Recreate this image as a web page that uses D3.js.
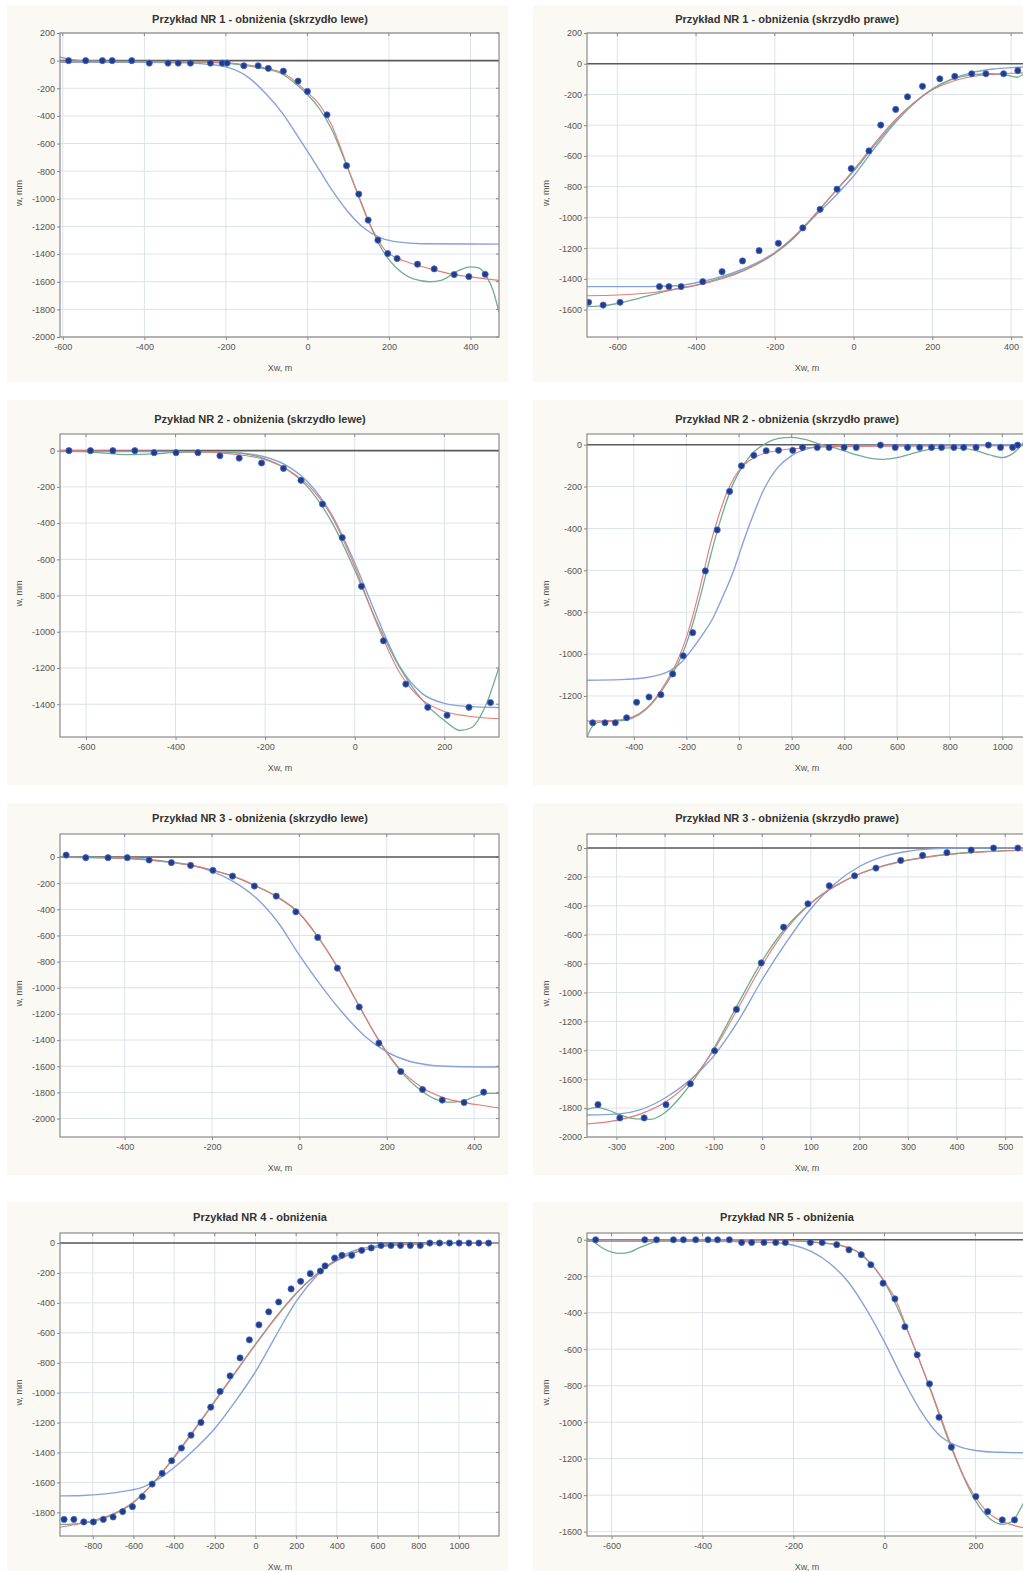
<!DOCTYPE html>
<html><head><meta charset="utf-8">
<script src="https://cdn.jsdelivr.net/npm/d3@7"></script>
<style>
body{margin:0;background:#fff;}
svg{display:block;font-family:"Liberation Sans",Arial,sans-serif;}
</style></head>
<body><svg id="c" width="1023" height="1571"></svg>
<script>
// ---------- titles & axis labels ----------
const titles = [
  "Przykład NR 1 - obniżenia (skrzydło lewe)",
  "Przykład NR 1 - obniżenia (skrzydło prawe)",
  "Pzykład NR 2 - obniżenia (skrzydło lewe)",
  "Przykład NR 2 - obniżenia (skrzydło prawe)",
  "Przykład NR 3 - obniżenia (skrzydło lewe)",
  "Przykład NR 3 - obniżenia (skrzydło prawe)",
  "Przykład NR 4 - obniżenia",
  "Przykład NR 5 - obniżenia"
];
const xLabel = "Xw, m";
const yLabel = "w, mm";

// ---------- tick values ----------
const xTicks = [
  [-600,-400,-200,0,200,400],
  [-600,-400,-200,0,200,400],
  [-600,-400,-200,0,200],
  [-400,-200,0,200,400,600,800,1000],
  [-400,-200,0,200,400],
  [-300,-200,-100,0,100,200,300,400,500],
  [-800,-600,-400,-200,0,200,400,600,800,1000],
  [-600,-400,-200,0,200]
];
const yTicks = [
  [200,0,-200,-400,-600,-800,-1000,-1200,-1400,-1600,-1800,-2000],
  [200,0,-200,-400,-600,-800,-1000,-1200,-1400,-1600],
  [0,-200,-400,-600,-800,-1000,-1200,-1400],
  [0,-200,-400,-600,-800,-1000,-1200],
  [0,-200,-400,-600,-800,-1000,-1200,-1400,-1600,-1800,-2000],
  [0,-200,-400,-600,-800,-1000,-1200,-1400,-1600,-1800,-2000],
  [0,-200,-400,-600,-800,-1000,-1200,-1400,-1600,-1800],
  [0,-200,-400,-600,-800,-1000,-1200,-1400,-1600]
];
// axis extents [xmin,xmax,ymin,ymax]
const extents = [
  [-607,470,-2000,200],
  [-677,448,-1778,200],
  [-658,322,-1581,92],
  [-577.5,1105,-1396,51],
  [-548,457,-2141,176],
  [-360.6,551,-2000,97],
  [-961,1197,-1958,67],
  [-654,320,-1624,37]
];

// ---------- NR 1 left ----------
const nr1L_dots = [[-586,0],[-544,0],[-503,0],[-479,0],[-431,0],[-388,-18],[-342,-18],[-317,-18],[-287,-18],[-238,-18],[-209,-18],[-197,-18],[-156,-37],[-121,-37],[-96,-56],[-59,-76],[-23,-148],[0,-223],[48,-392],[96,-760],[126,-966],[149,-1154],[173,-1299],[197,-1396],[220,-1432],[270,-1473],[311,-1507],[360,-1548],[396,-1563],[436,-1546]];
const nr1L_red = [[-607,-3],[-400,-5],[-250,-10],[-200,-15],[-150,-30],[-100,-55],[-60,-90],[-30,-150],[0,-230],[30,-320],[60,-470],[90,-700],[110,-860],[130,-1010],[150,-1160],[170,-1280],[190,-1370],[210,-1415],[250,-1462],[300,-1505],[350,-1543],[400,-1565],[470,-1590]];
const nr1L_green = [[-607,25],[-580,8],[-500,-5],[-300,-10],[-220,-15],[-180,-25],[-120,-50],[-60,-100],[-30,-165],[0,-245],[30,-350],[60,-500],[90,-710],[120,-940],[150,-1165],[175,-1325],[200,-1440],[230,-1530],[260,-1580],[300,-1600],[330,-1588],[370,-1520],[400,-1492],[420,-1500],[440,-1565],[455,-1660],[470,-1820]];
const nr1L_blue = [[-607,-12],[-400,-12],[-300,-15],[-250,-25],[-200,-45],[-150,-110],[-100,-245],[-60,-385],[-20,-565],[0,-655],[30,-795],[60,-935],[100,-1095],[140,-1215],[180,-1283],[220,-1312],[280,-1325],[470,-1328]];

// ---------- NR 1 right ----------
const nr1R_dots = [[-673,-1552],[-636,-1570],[-593,-1552],[-493,-1450],[-469,-1450],[-438,-1450],[-383,-1418],[-334,-1353],[-282,-1283],[-240,-1216],[-191,-1168],[-129,-1068],[-85,-947],[-42,-816],[-6,-682],[39,-567],[69,-399],[107,-297],[137,-215],[175,-147],[219,-98],[257,-82],[300,-65],[336,-65],[381,-65],[417,-45]];
const nr1R_red = [[-677,-1510],[-600,-1505],[-500,-1485],[-420,-1452],[-350,-1410],[-300,-1370],[-250,-1310],[-200,-1232],[-150,-1120],[-100,-985],[-50,-840],[0,-690],[50,-530],[100,-380],[150,-260],[200,-170],[250,-115],[300,-85],[350,-70],[400,-62],[448,-58]];
const nr1R_green = [[-677,-1580],[-640,-1575],[-600,-1560],[-550,-1530],[-500,-1495],[-450,-1465],[-400,-1440],[-350,-1405],[-300,-1365],[-250,-1310],[-200,-1235],[-150,-1130],[-100,-990],[-50,-840],[0,-700],[50,-540],[100,-390],[150,-265],[200,-165],[250,-100],[300,-72],[350,-65],[390,-75],[415,-88],[430,-70],[448,-30]];
const nr1R_blue = [[-677,-1450],[-520,-1450],[-450,-1445],[-400,-1425],[-350,-1395],[-300,-1355],[-250,-1300],[-200,-1228],[-150,-1125],[-100,-995],[-50,-870],[0,-730],[50,-560],[100,-400],[150,-265],[200,-165],[250,-100],[300,-58],[350,-36],[400,-25],[448,-20]];

// ---------- NR 2 left ----------
const nr2L_dots = [[-638,0],[-590,0],[-540,0],[-491,0],[-448,-11],[-399,-11],[-350,-11],[-301,-28],[-258,-41],[-208,-68],[-159,-98],[-120,-164],[-72,-295],[-28,-480],[15,-749],[64,-1050],[114,-1289],[163,-1417],[206,-1461],[255,-1417],[303,-1391]];
const nr2L_red = [[-658,0],[-500,-2],[-400,-5],[-300,-12],[-250,-25],[-200,-50],[-150,-105],[-100,-200],[-50,-370],[0,-640],[50,-960],[100,-1225],[150,-1375],[200,-1440],[250,-1465],[322,-1480]];
const nr2L_green = [[-658,0],[-600,-5],[-550,-15],[-500,-22],[-450,-18],[-400,-10],[-300,-5],[-250,-15],[-200,-45],[-150,-105],[-100,-215],[-50,-400],[0,-660],[50,-950],[100,-1195],[150,-1375],[200,-1490],[235,-1545],[260,-1530],[290,-1420],[322,-1195]];
const nr2L_blue = [[-658,-5],[-400,-5],[-300,-8],[-250,-15],[-200,-35],[-150,-85],[-100,-185],[-50,-360],[0,-620],[50,-920],[100,-1190],[150,-1340],[200,-1395],[250,-1412],[322,-1418]];

// ---------- NR 2 right ----------
const nr2R_dots = [[-556,-1328],[-509,-1328],[-470,-1328],[-427,-1304],[-389,-1230],[-342,-1205],[-297,-1194],[-252,-1095],[-212,-1008],[-176,-898],[-128,-603],[-83,-407],[-36,-223],[9,-101],[56,-51],[103,-29],[150,-27],[204,-27],[241,-13],[297,-13],[342,-13],[399,-13],[445,-13],[537,-2],[593,-13],[640,-13],[686,-13],[731,-13],[769,-13],[816,-13],[853,-13],[900,-13],[947,-2],[993,-13],[1039,-13],[1058,-2]];
const nr2R_red = [[-577,-1320],[-500,-1318],[-430,-1310],[-380,-1285],[-330,-1230],[-280,-1140],[-230,-1020],[-200,-920],[-170,-790],[-140,-640],[-110,-480],[-80,-350],[-50,-240],[-20,-160],[20,-95],[60,-60],[100,-40],[150,-28],[250,-15],[400,-8],[1105,-5]];
const nr2R_green = [[-577,-1395],[-560,-1350],[-530,-1325],[-480,-1320],[-430,-1315],[-380,-1290],[-330,-1235],[-280,-1150],[-230,-1040],[-200,-950],[-170,-830],[-140,-690],[-110,-540],[-80,-400],[-50,-280],[-20,-180],[20,-90],[60,-30],[100,5],[150,30],[200,35],[250,25],[300,5],[350,-10],[400,-30],[450,-50],[500,-65],[550,-70],[600,-62],[650,-45],[700,-28],[750,-18],[800,-15],[850,-18],[900,-28],[950,-48],[1000,-62],[1030,-50],[1060,-20],[1080,10]];
const nr2R_blue = [[-577,-1125],[-450,-1122],[-350,-1112],[-300,-1098],[-260,-1078],[-220,-1040],[-180,-980],[-140,-910],[-100,-830],[-60,-720],[-20,-600],[0,-525],[20,-450],[60,-315],[92,-220],[150,-105],[200,-52],[250,-24],[300,-10],[400,-3],[1105,0]];

// ---------- NR 3 left ----------
const nr3L_dots = [[-534,15],[-489,-5],[-438,-5],[-394,-5],[-344,-23],[-293,-43],[-249,-64],[-198,-102],[-153,-146],[-103,-222],[-53,-299],[-8,-419],[42,-615],[87,-850],[137,-1147],[182,-1423],[232,-1640],[282,-1778],[327,-1859],[377,-1877],[422,-1798]];
const nr3L_red = [[-548,0],[-450,-5],[-400,-10],[-300,-38],[-250,-62],[-200,-100],[-150,-148],[-100,-220],[-50,-305],[0,-430],[40,-600],[90,-860],[137,-1140],[182,-1400],[230,-1620],[280,-1760],[330,-1840],[380,-1880],[420,-1900],[457,-1920]];
const nr3L_green = [[-548,0],[-450,-5],[-400,-10],[-300,-38],[-250,-62],[-200,-100],[-150,-150],[-100,-222],[-50,-308],[0,-432],[40,-600],[90,-858],[137,-1140],[182,-1405],[230,-1630],[280,-1790],[310,-1850],[340,-1875],[370,-1868],[400,-1835],[430,-1808],[457,-1808]];
const nr3L_blue = [[-548,-3],[-400,-8],[-300,-35],[-250,-60],[-200,-110],[-150,-190],[-100,-310],[-50,-495],[0,-750],[50,-985],[100,-1195],[150,-1370],[200,-1490],[250,-1560],[300,-1592],[350,-1602],[457,-1606]];

// ---------- NR 3 right ----------
const nr3R_dots = [[-338,-1776],[-293,-1868],[-243,-1868],[-198,-1776],[-148,-1632],[-98,-1403],[-53,-1117],[-2,-795],[44,-548],[94,-386],[138,-261],[190,-192],[234,-139],[285,-86],[330,-51],[380,-32],[430,-14],[476,0],[526,0]];
const nr3R_red = [[-361,-1910],[-300,-1885],[-250,-1840],[-200,-1760],[-150,-1620],[-100,-1400],[-50,-1110],[0,-810],[50,-560],[100,-385],[150,-265],[200,-180],[250,-125],[300,-85],[350,-58],[400,-40],[450,-28],[551,-15]];
const nr3R_green = [[-361,-1810],[-340,-1795],[-320,-1810],[-290,-1850],[-260,-1875],[-230,-1878],[-200,-1830],[-170,-1730],[-140,-1600],[-100,-1390],[-50,-1080],[0,-780],[50,-545],[100,-380],[150,-262],[200,-178],[250,-122],[300,-83],[350,-56],[400,-38],[450,-26],[551,-14]];
const nr3R_blue = [[-361,-1848],[-300,-1842],[-250,-1810],[-200,-1730],[-150,-1610],[-100,-1440],[-50,-1200],[0,-910],[50,-650],[100,-420],[150,-245],[200,-128],[250,-58],[300,-22],[350,-6],[400,0],[551,0]];

// ---------- NR 4 ----------
const nr4_dots = [[-941,-1847],[-893,-1847],[-844,-1864],[-797,-1864],[-748,-1847],[-700,-1831],[-653,-1795],[-605,-1762],[-556,-1695],[-508,-1611],[-459,-1539],[-412,-1455],[-364,-1370],[-317,-1284],[-268,-1199],[-220,-1097],[-174,-992],[-125,-888],[-76,-768],[-30,-647],[17,-547],[65,-460],[114,-394],[175,-307],[222,-256],[269,-205],[319,-187],[342,-153],[389,-100],[425,-82],[473,-82],[522,-49],[569,-33],[617,-16],[666,-16],[713,-16],[761,-16],[810,-16],[857,0],[905,0],[954,0],[1001,0],[1049,0],[1098,0],[1146,0]];
const nr4_red = [[-961,-1900],[-900,-1885],[-850,-1870],[-800,-1855],[-700,-1810],[-600,-1730],[-500,-1600],[-400,-1435],[-300,-1250],[-200,-1060],[-100,-870],[0,-680],[100,-500],[200,-340],[300,-210],[400,-118],[500,-60],[600,-28],[700,-13],[800,-6],[1000,-2],[1197,0]];
const nr4_green = [[-961,-1880],[-900,-1878],[-800,-1862],[-700,-1815],[-600,-1735],[-500,-1600],[-400,-1430],[-300,-1245],[-200,-1055],[-100,-865],[0,-675],[100,-495],[200,-335],[300,-208],[400,-115],[500,-58],[600,-26],[700,-12],[800,-5],[1000,-2],[1197,0]];
const nr4_blue = [[-961,-1690],[-850,-1687],[-750,-1678],[-650,-1660],[-550,-1630],[-480,-1580],[-400,-1500],[-300,-1380],[-200,-1240],[-100,-1060],[0,-860],[100,-620],[200,-390],[300,-220],[400,-105],[500,-45],[600,-18],[700,-6],[1197,0]];

// ---------- NR 5 ----------
const nr5_dots = [[-635,0],[-527,0],[-501,0],[-464,0],[-442,0],[-415,0],[-388,0],[-367,0],[-341,0],[-314,-15],[-292,-15],[-265,-15],[-239,-15],[-218,-15],[-163,-15],[-137,-15],[-105,-27],[-78,-55],[-51,-82],[-30,-137],[-3,-238],[23,-324],[45,-477],[72,-631],[99,-790],[120,-973],[147,-1137],[201,-1408],[227,-1490],[259,-1536],[286,-1536]];
const nr5_red = [[-654,0],[-300,-2],[-200,-6],[-150,-14],[-100,-28],[-60,-65],[-30,-130],[0,-230],[25,-330],[50,-490],[75,-650],[100,-810],[125,-980],[150,-1150],[175,-1300],[200,-1410],[230,-1500],[260,-1545],[290,-1570],[320,-1585]];
const nr5_green = [[-654,8],[-640,-10],[-620,-45],[-600,-68],[-580,-75],[-560,-68],[-540,-45],[-520,-25],[-500,-8],[-450,0],[-300,0],[-200,-5],[-150,-15],[-100,-30],[-60,-65],[-30,-130],[0,-232],[50,-495],[100,-815],[150,-1160],[200,-1430],[230,-1525],[260,-1560],[280,-1545],[300,-1470],[320,-1360]];
const nr5_blue = [[-654,-8],[-400,-8],[-250,-15],[-200,-30],[-160,-65],[-120,-130],[-80,-230],[-40,-380],[0,-560],[40,-760],[80,-940],[120,-1070],[160,-1130],[200,-1155],[250,-1165],[320,-1168]];

const dotsAll  = [nr1L_dots,nr1R_dots,nr2L_dots,nr2R_dots,nr3L_dots,nr3R_dots,nr4_dots,nr5_dots];
const redAll   = [nr1L_red,nr1R_red,nr2L_red,nr2R_red,nr3L_red,nr3R_red,nr4_red,nr5_red];
const greenAll = [nr1L_green,nr1R_green,nr2L_green,nr2R_green,nr3L_green,nr3R_green,nr4_green,nr5_green];
const blueAll  = [nr1L_blue,nr1R_blue,nr2L_blue,nr2R_blue,nr3L_blue,nr3R_blue,nr4_blue,nr5_blue];

// ---------- layout (pixels) ----------
const colL = {L:60, R:499, bgX:7, bgW:501, titleX:260, xlX:280, ylX:20};
const colR = {L:587, R:1030, bgX:533, bgW:500, titleX:787, xlX:807, ylX:547};
const rows = [
  {T:33,  B:337,  bgY:5,    bgH:377, titleY:20,   xlY:369},
  {T:434, B:737,  bgY:400,  bgH:385, titleY:420,  xlY:769},
  {T:834, B:1137, bgY:803,  bgH:372, titleY:819,  xlY:1169},
  {T:1233,B:1536, bgY:1202, bgH:369, titleY:1218, xlY:1568}
];

const svg = d3.select("#c");
const lineGen = (x,y) => d3.line().x(d=>x(d[0])).y(d=>y(d[1])).curve(d3.curveMonotoneX);

titles.forEach((title,i)=>{
  const col = i%2===0 ? colL : colR;
  const row = rows[Math.floor(i/2)];
  const [x0,x1,y0,y1] = extents[i];
  const x = d3.scaleLinear().domain([x0,x1]).range([col.L,col.R]);
  const y = d3.scaleLinear().domain([y0,y1]).range([row.B,row.T]);
  const g = svg.append("g");

  g.append("rect").attr("x",col.bgX).attr("y",row.bgY).attr("width",col.bgW).attr("height",row.bgH).attr("fill","#fbf9f3");
  g.append("rect").attr("x",col.L).attr("y",row.T).attr("width",col.R-col.L).attr("height",row.B-row.T).attr("fill","#fff");

  // grid
  g.append("g").selectAll("line").data(xTicks[i]).join("line")
    .attr("x1",d=>x(d)).attr("x2",d=>x(d)).attr("y1",row.T).attr("y2",row.B)
    .attr("stroke","#dde2ea").attr("stroke-width",1);
  g.append("g").selectAll("line").data(yTicks[i]).join("line")
    .attr("x1",col.L).attr("x2",col.R).attr("y1",d=>y(d)).attr("y2",d=>y(d))
    .attr("stroke","#dde2ea").attr("stroke-width",1);

  // axes
  const fmt = d=>String(d);
  g.append("g").attr("transform",`translate(0,${row.B})`)
    .call(d3.axisBottom(x).tickValues(xTicks[i]).tickFormat(fmt).tickSize(3).tickPadding(4))
    .call(a=>{a.select(".domain").remove();a.selectAll("line").attr("stroke","#888");
      a.selectAll("text").attr("fill","#555").attr("font-size",9).attr("font-family","Liberation Sans, Arial");});
  g.append("g").attr("transform",`translate(${col.L},0)`)
    .call(d3.axisLeft(y).tickValues(yTicks[i]).tickFormat(fmt).tickSize(3).tickPadding(2))
    .call(a=>{a.select(".domain").remove();a.selectAll("line").attr("stroke","#888");
      a.selectAll("text").attr("fill","#555").attr("font-size",9).attr("font-family","Liberation Sans, Arial");});
  // inner ticks on top & right
  g.append("g").selectAll("line").data(xTicks[i]).join("line")
    .attr("x1",d=>x(d)).attr("x2",d=>x(d)).attr("y1",row.T).attr("y2",row.T+3).attr("stroke","#888");
  g.append("g").selectAll("line").data(yTicks[i]).join("line")
    .attr("x1",col.R-3).attr("x2",col.R).attr("y1",d=>y(d)).attr("y2",d=>y(d)).attr("stroke","#888");

  // clip
  const cid = "clip"+i;
  svg.append("clipPath").attr("id",cid).append("rect")
    .attr("x",col.L).attr("y",row.T).attr("width",col.R-col.L).attr("height",row.B-row.T);
  const pg = g.append("g").attr("clip-path",`url(#${cid})`);

  // zero line
  pg.append("line").attr("x1",col.L).attr("x2",col.R).attr("y1",y(0)).attr("y2",y(0))
    .attr("stroke","#5a5a5a").attr("stroke-width",1.6);

  const lg = lineGen(x,y);
  pg.append("path").datum(blueAll[i]).attr("d",lg).attr("fill","none").attr("stroke","#86a3d8").attr("stroke-width",1.4);
  pg.append("path").datum(greenAll[i]).attr("d",lg).attr("fill","none").attr("stroke","#6fae8e").attr("stroke-width",1.3);
  pg.append("path").datum(redAll[i]).attr("d",lg).attr("fill","none").attr("stroke","#e57a78").attr("stroke-width",1.1);
  pg.selectAll("circle").data(dotsAll[i]).join("circle")
    .attr("cx",d=>x(d[0])).attr("cy",d=>y(d[1])).attr("r",3.1)
    .attr("fill","#1f3d8c").attr("stroke","#4a6cc0").attr("stroke-width",0.8);

  // border
  g.append("rect").attr("x",col.L).attr("y",row.T).attr("width",col.R-col.L).attr("height",row.B-row.T)
    .attr("fill","none").attr("stroke","#8a8a8a").attr("stroke-width",1.2);

  // texts
  g.append("text").attr("x",col.titleX).attr("y",row.titleY).attr("text-anchor","middle").attr("dominant-baseline","middle")
    .attr("font-size",11).attr("font-weight","bold").attr("fill","#333").text(title);
  g.append("text").attr("x",col.xlX).attr("y",row.xlY).attr("text-anchor","middle").attr("dominant-baseline","middle")
    .attr("font-size",9).attr("fill","#555").text(xLabel);
  g.append("text").attr("transform",`translate(${col.ylX},${(row.T+row.B)/2+8}) rotate(-90)`)
    .attr("text-anchor","middle").attr("dominant-baseline","middle")
    .attr("font-size",9).attr("fill","#555").text(yLabel);
});
</script></body></html>
